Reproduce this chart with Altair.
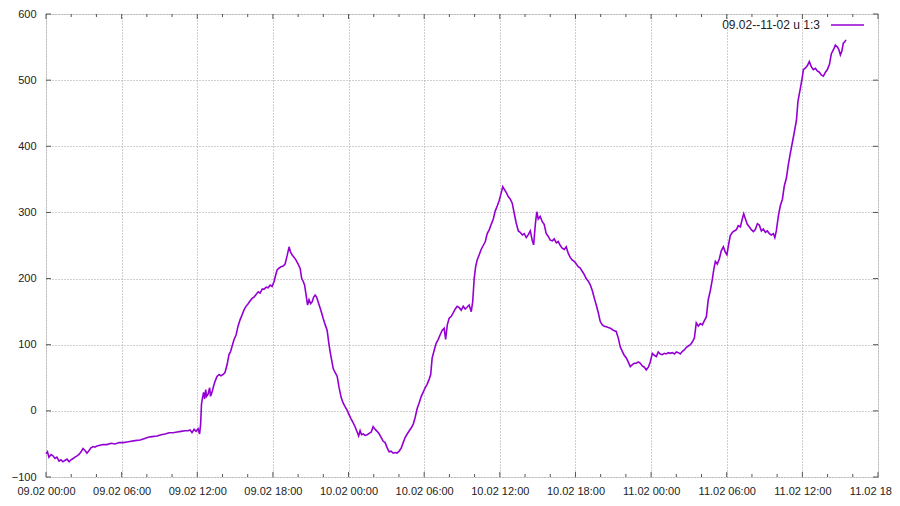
import altair as alt
import pandas as pd

# minutes since 09.02 00:00 and the plotted value (column 3)
minutes = [0, 7, 14, 24, 33, 43, 52, 62, 71, 81, 90, 100, 110, 119, 129, 138, 148, 157, 167, 176,
           186, 195, 205, 214, 224, 233, 243, 257, 271, 290, 310, 329, 348, 367, 386, 405, 424, 448, 467, 486,
           505, 529, 548, 567, 586, 605, 624, 643, 662, 676, 686, 695, 705, 714, 724, 731, 736, 740, 745, 750,
           755, 760, 764, 771, 779, 783, 790, 798, 805, 814, 824, 833, 843, 852, 862, 871, 879, 886, 895, 905,
           914, 924, 933, 943, 952, 962, 971, 981, 990, 1000, 1010, 1019, 1029, 1038, 1048, 1057, 1067, 1076, 1086, 1093,
           1100, 1110, 1119, 1129, 1138, 1148, 1157, 1164, 1171, 1181, 1190, 1200, 1210, 1217, 1224, 1231, 1238, 1245, 1252, 1260,
           1267, 1274, 1281, 1288, 1295, 1305, 1312, 1319, 1329, 1338, 1345, 1352, 1360, 1367, 1376, 1386, 1395, 1405, 1414, 1424,
           1433, 1443, 1452, 1462, 1471, 1481, 1488, 1495, 1502, 1510, 1519, 1529, 1538, 1548, 1557, 1567, 1576, 1586, 1595, 1605,
           1614, 1624, 1633, 1643, 1652, 1662, 1671, 1681, 1691, 1700, 1710, 1719, 1729, 1738, 1748, 1757, 1767, 1776, 1786, 1795,
           1805, 1814, 1824, 1831, 1838, 1848, 1857, 1867, 1876, 1886, 1895, 1902, 1910, 1919, 1929, 1938, 1948, 1957, 1967, 1976,
           1986, 1995, 2005, 2014, 2024, 2031, 2038, 2045, 2052, 2062, 2071, 2081, 2091, 2100, 2110, 2119, 2129, 2138, 2148, 2157,
           2167, 2174, 2181, 2191, 2200, 2210, 2219, 2229, 2238, 2248, 2257, 2267, 2276, 2286, 2295, 2305, 2314, 2321, 2329, 2336,
           2343, 2352, 2362, 2371, 2381, 2390, 2400, 2410, 2419, 2429, 2438, 2448, 2457, 2467, 2476, 2486, 2495, 2505, 2514, 2524,
           2533, 2543, 2552, 2562, 2571, 2581, 2591, 2600, 2610, 2619, 2629, 2638, 2648, 2657, 2667, 2676, 2686, 2695, 2705, 2714,
           2724, 2733, 2743, 2752, 2762, 2771, 2781, 2791, 2800, 2810, 2819, 2829, 2838, 2848, 2857, 2867, 2876, 2886, 2895, 2905,
           2914, 2924, 2933, 2943, 2952, 2962, 2971, 2981, 2991, 3000, 3010, 3019, 3029, 3038, 3048, 3057, 3067, 3076, 3086, 3095,
           3105, 3114, 3124, 3133, 3143, 3152, 3162, 3171, 3179, 3186, 3195, 3205, 3214, 3224, 3233, 3241, 3248, 3257, 3267, 3276,
           3286, 3295, 3305, 3314, 3321, 3329, 3338, 3348, 3357, 3367, 3376, 3386, 3395, 3405, 3414, 3424, 3433, 3443, 3452, 3462,
           3469, 3476, 3486, 3495, 3505, 3514, 3524, 3533, 3543, 3552, 3562, 3572, 3579, 3586, 3593, 3600, 3605, 3614, 3624, 3633,
           3643, 3652, 3662, 3671, 3681, 3690, 3700, 3710, 3719, 3729, 3738, 3748, 3757, 3767, 3774, 3781, 3788, 3795, 3802, 3807]

values = [-65, -62, -70, -66, -68, -72, -70, -76, -74, -77, -75, -73, -77, -74, -72, -70, -68, -66, -62, -57,
          -60, -64, -60, -56, -54, -55, -53, -52, -51, -51, -49, -50, -48, -48, -47, -46, -45, -44, -42, -40,
          -39, -38, -36, -35, -33, -33, -32, -31, -30, -30, -29, -33, -28, -31, -27, -35, -20, 10, 20, 28,
          18, 32, 22, 25, 35, 22, 28, 38, 45, 52, 55, 53, 55, 58, 70, 85, 90, 98, 108, 115,
          128, 138, 145, 153, 158, 162, 166, 170, 172, 176, 180, 178, 184, 184, 187, 186, 190, 188, 196, 205,
          213, 216, 218, 219, 222, 235, 248, 240, 236, 232, 228, 222, 215, 200, 196, 190, 175, 160, 168, 162,
          165, 172, 175, 172, 165, 155, 148, 140, 130, 122, 105, 90, 76, 64, 58, 52, 35, 20, 12, 6,
          1, -6, -12, -18, -24, -32, -38, -30, -36, -35, -37, -36, -34, -32, -24, -28, -31, -35, -40, -46,
          -48, -56, -62, -61, -64, -63, -64, -61, -56, -48, -40, -35, -30, -26, -20, -10, 4, 12, 22, 28,
          35, 40, 48, 55, 80, 92, 102, 108, 115, 122, 125, 108, 130, 140, 143, 148, 154, 158, 156, 152,
          158, 154, 157, 160, 150, 165, 200, 218, 228, 236, 244, 250, 256, 268, 274, 282, 290, 302, 310, 318,
          330, 339, 335, 330, 324, 320, 314, 298, 284, 272, 270, 266, 268, 262, 266, 272, 258, 251, 282, 301,
          290, 294, 286, 282, 268, 264, 258, 257, 260, 254, 256, 250, 246, 244, 248, 238, 232, 228, 226, 222,
          218, 216, 211, 206, 200, 196, 190, 182, 170, 160, 148, 135, 130, 128, 127, 126, 125, 123, 121, 120,
          110, 97, 90, 84, 80, 74, 67, 70, 72, 72, 74, 72, 68, 66, 62, 66, 74, 87, 84, 82,
          89, 86, 85, 87, 86, 88, 87, 88, 86, 89, 88, 86, 90, 92, 96, 98, 100, 104, 110, 133,
          128, 132, 130, 136, 142, 168, 182, 198, 215, 226, 222, 230, 242, 248, 240, 236, 250, 265, 270, 272,
          274, 280, 278, 290, 298, 290, 282, 278, 274, 271, 274, 283, 281, 272, 275, 270, 272, 268, 266, 268,
          262, 272, 295, 310, 320, 340, 352, 372, 390, 405, 422, 440, 468, 480, 492, 505, 516, 518, 522, 528,
          520, 516, 518, 514, 512, 508, 506, 512, 516, 524, 540, 546, 553, 550, 546, 538, 544, 556, 558, 561]

legend_label = "09.02--11-02 u 1:3"
y_ticks = [-100, 0, 100, 200, 300, 400, 500, 600]
major_hours = list(range(0, 67, 6))
minor_hours = [h for h in range(0, 67, 2) if h % 6 != 0]

MS_H = 3600 * 1000
T0 = int(pd.Timestamp("2021-02-09T00:00:00Z").value // 1_000_000)

df = pd.DataFrame({"t": [T0 + m * 60000 for m in minutes], "v": values})
major_df = pd.DataFrame({"t": [T0 + h * MS_H for h in major_hours]})
minor_df = pd.DataFrame({"t": [T0 + h * MS_H for h in minor_hours]})
yt_df = pd.DataFrame({"v": y_ticks})

W, H = 832, 463
FONT = "Liberation Sans"
BORDER = "#555555"
LINE = "#9400D3"

xscale = alt.Scale(type="utc", domain=[T0, T0 + 66 * MS_H], nice=False)
yscale = alt.Scale(domain=[-100, 600], nice=False, zero=False)

line = alt.Chart(df).mark_line(color=LINE, strokeWidth=1.6, strokeJoin="miter").encode(
    x=alt.X("t:T", scale=xscale, title=None,
            axis=alt.Axis(values=[T0 + h * MS_H for h in major_hours],
                          labelExpr="utcFormat(datum.value, '%d.%m %H:%M')",
                          grid=True, gridColor="#a0a0a0", gridDash=[1, 2], gridWidth=1,
                          domain=False, tickSize=0, labelPadding=8, labelFont=FONT,
                          labelFontSize=11, labelColor="#222222", labelFlush=False,
                          labelOverlap=False, labelBound=False)),
    y=alt.Y("v:Q", scale=yscale, title=None,
            axis=alt.Axis(values=y_ticks, grid=True, gridColor="#a0a0a0", gridDash=[1, 2], gridWidth=1,
                          domain=False, tickSize=0, labelPadding=10, labelFont=FONT,
                          labelFontSize=11, labelColor="#222222", labelFlush=False,
                          labelOverlap=False)),
)

tick_color = BORDER
xmaj_b = alt.Chart(major_df).mark_rule(color=tick_color).encode(x="t:T", y=alt.value(H), y2=alt.value(H - 5))
xmaj_t = alt.Chart(major_df).mark_rule(color=tick_color).encode(x="t:T", y=alt.value(0), y2=alt.value(5))
xmin_b = alt.Chart(minor_df).mark_rule(color=tick_color).encode(x="t:T", y=alt.value(H), y2=alt.value(H - 3))
xmin_t = alt.Chart(minor_df).mark_rule(color=tick_color).encode(x="t:T", y=alt.value(0), y2=alt.value(3))
ytk_l = alt.Chart(yt_df).mark_rule(color=tick_color).encode(y="v:Q", x=alt.value(0), x2=alt.value(5))
ytk_r = alt.Chart(yt_df).mark_rule(color=tick_color).encode(y="v:Q", x=alt.value(W), x2=alt.value(W - 5))

leg_text = alt.Chart(pd.DataFrame({"s": [legend_label]})).mark_text(
    align="right", baseline="middle", font=FONT, fontSize=12, color="#222222"
).encode(text="s:N", x=alt.value(774), y=alt.value(11))
leg_line = alt.Chart(pd.DataFrame({"s": [legend_label]})).mark_rule(
    color=LINE, strokeWidth=1.3
).encode(x=alt.value(785), x2=alt.value(818), y=alt.value(11))

chart = alt.layer(
    line, xmaj_b, xmaj_t, xmin_b, xmin_t, ytk_l, ytk_r, leg_text, leg_line
).properties(
    width=W, height=H,
    autosize=alt.AutoSizeParams(type="none"),
    padding={"left": 38, "top": 6, "right": 14, "bottom": 19},
).configure_view(
    stroke=BORDER, strokeWidth=1
).configure(background="white")

chart.save("out.html", embed_options={"renderer": "svg", "actions": False})
